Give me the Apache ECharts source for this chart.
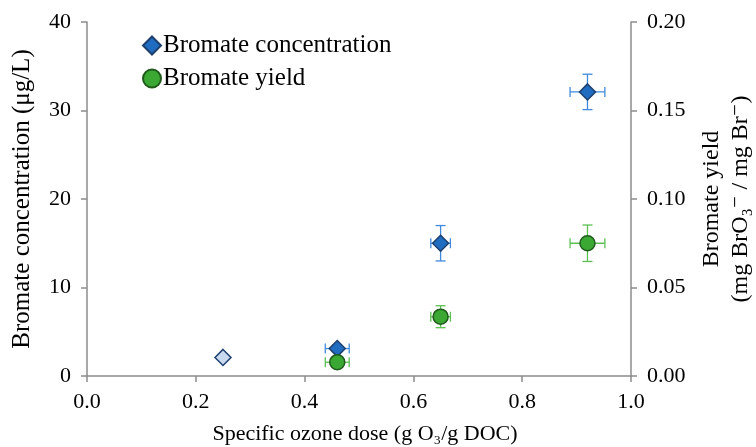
<!DOCTYPE html>
<html>
<head>
<meta charset="utf-8">
<script src="https://cdn.jsdelivr.net/npm/echarts@6/dist/echarts.min.js"></script>
<style>
  html, body { margin: 0; padding: 0; background: #fff; }
  #chart { width: 756px; height: 447px; }
</style>
</head>
<body>
<div id="chart"></div>
<script>
// data
var doseConc = [0.25, 0.46, 0.65, 0.92];
var conc     = [2.1, 3.1, 15.0, 32.1];
var concXErr = [0, 0.022, 0.018, 0.032];
var concYErr = [0, 0.4, 2.0, 2.0];

var doseYield  = [0.46, 0.65, 0.92];
var yieldVal   = [0.0078, 0.0335, 0.075];
var yieldXErr  = [0.022, 0.018, 0.032];
var yieldYErr  = [0.002, 0.0062, 0.0103];

var FONT = '"Liberation Serif", "DejaVu Serif", serif';
var AXIS_COLOR = '#8c8c8c';

function pairs(xs, ys) {
    return xs.map(function (x, i) { return [x, ys[i]]; });
}

// error bars as custom series: value = [x, y, xErr, yErr]
function errorBars(xs, ys, xe, ye, yIndex, color) {
    return {
        type: 'custom',
        yAxisIndex: yIndex,
        z: 1,
        silent: true,
        renderItem: function (params, api) {
            var x = api.value(0), y = api.value(1);
            var dx = api.value(2), dy = api.value(3);
            var cap = 5;
            var kids = [];
            var st = { stroke: color, lineWidth: 1.3 };
            if (dx > 0) {
                var l = api.coord([x - dx, y]), r = api.coord([x + dx, y]);
                kids.push({ type: 'line', shape: { x1: l[0], y1: l[1], x2: r[0], y2: r[1] }, style: st });
                kids.push({ type: 'line', shape: { x1: l[0], y1: l[1] - cap, x2: l[0], y2: l[1] + cap }, style: st });
                kids.push({ type: 'line', shape: { x1: r[0], y1: r[1] - cap, x2: r[0], y2: r[1] + cap }, style: st });
            }
            if (dy > 0) {
                var t = api.coord([x, y + dy]), b = api.coord([x, y - dy]);
                kids.push({ type: 'line', shape: { x1: t[0], y1: t[1], x2: b[0], y2: b[1] }, style: st });
                kids.push({ type: 'line', shape: { x1: t[0] - cap, y1: t[1], x2: t[0] + cap, y2: t[1] }, style: st });
                kids.push({ type: 'line', shape: { x1: b[0] - cap, y1: b[1], x2: b[0] + cap, y2: b[1] }, style: st });
            }
            return { type: 'group', children: kids };
        },
        data: xs.map(function (x, i) { return [x, ys[i], xe[i], ye[i]]; })
    };
}

var concData = pairs(doseConc, conc).map(function (p, i) {
    if (i === 0) {
        return { value: p, itemStyle: { color: '#c9daf0', borderColor: '#1d3f6e' } };
    }
    return p;
});

var myChart = echarts.init(document.getElementById('chart'));
var option = {
    backgroundColor: '#fff',
    animation: false,
    textStyle: { fontFamily: FONT, color: '#000' },
    legend: {
        orient: 'vertical',
        left: 137,
        top: 28,
        itemGap: 8,
        itemWidth: 18,
        itemHeight: 18,
        textStyle: { fontFamily: FONT, fontSize: 25, color: '#000', padding: [0, 0, 0, -3] },
        data: ['Bromate concentration', 'Bromate yield']
    },
    grid: {
        left: 87,
        right: 125,
        top: 22,
        bottom: 71,
        containLabel: false,
        outerBoundsMode: 'none'
    },
    xAxis: {
        type: 'value',
        min: 0,
        max: 1,
        interval: 0.2,
        name: 'Specific ozone dose (g O\u2083/g DOC)',
        nameLocation: 'middle',
        nameGap: 47,
        nameTextStyle: { fontFamily: FONT, fontSize: 22, color: '#000', padding: [0, 0, 0, 12] },
        axisLine: { lineStyle: { color: AXIS_COLOR, width: 1.5 } },
        axisTick: { show: true, length: 6, lineStyle: { color: AXIS_COLOR, width: 1.5 } },
        axisLabel: {
            fontFamily: FONT, fontSize: 22, color: '#000', margin: 15,
            formatter: function (v) { return v.toFixed(1); }
        },
        splitLine: { show: false }
    },
    yAxis: [
        {
            type: 'value',
            min: 0,
            max: 40,
            interval: 10,
            name: 'Bromate concentration (\u03bcg/L)',
            nameLocation: 'middle',
            nameRotate: 90,
            nameGap: 52,
            nameTextStyle: { fontFamily: FONT, fontSize: 25, color: '#000' },
            axisLine: { show: true, lineStyle: { color: AXIS_COLOR, width: 1.5 } },
            axisTick: { show: true, length: 6, lineStyle: { color: AXIS_COLOR, width: 1.5 } },
            axisLabel: { fontFamily: FONT, fontSize: 22, color: '#000', margin: 16 },
            splitLine: { show: false }
        },
        {
            type: 'value',
            min: 0,
            max: 0.2,
            interval: 0.05,
            position: 'right',
            name: 'Bromate yield\n(mg BrO\u2083\u207b / mg Br\u207b)',
            nameLocation: 'middle',
            nameRotate: 90,
            nameGap: 66,
            nameTextStyle: { fontFamily: FONT, fontSize: 24, color: '#000', lineHeight: 29 },
            axisLine: { show: true, lineStyle: { color: AXIS_COLOR, width: 1.5 } },
            axisTick: { show: true, length: 6, lineStyle: { color: AXIS_COLOR, width: 1.5 } },
            axisLabel: {
                fontFamily: FONT, fontSize: 22, color: '#000', margin: 16,
                formatter: function (v) { return v.toFixed(2); }
            },
            splitLine: { show: false }
        }
    ],
    series: [
        errorBars(doseConc, conc, concXErr, concYErr, 0, '#4089dc'),
        errorBars(doseYield, yieldVal, yieldXErr, yieldYErr, 1, '#5cbf52'),
        {
            name: 'Bromate concentration',
            type: 'scatter',
            yAxisIndex: 0,
            symbol: 'diamond',
            symbolSize: 16,
            z: 3,
            itemStyle: { color: '#1f6cc0', borderColor: '#1d3f6e', borderWidth: 1.5, opacity: 1 },
            data: concData
        },
        {
            name: 'Bromate yield',
            type: 'scatter',
            yAxisIndex: 1,
            symbol: 'circle',
            symbolSize: 15,
            z: 3,
            itemStyle: { color: '#3aa833', borderColor: '#1f5a1b', borderWidth: 1.5, opacity: 1 },
            data: pairs(doseYield, yieldVal)
        }
    ]
};
myChart.setOption(option);
</script>
</body>
</html>
